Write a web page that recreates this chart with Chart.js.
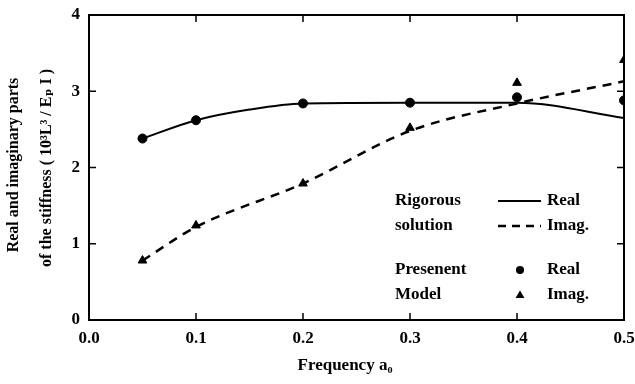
<!DOCTYPE html>
<html><head><meta charset="utf-8">
<script src="https://cdn.jsdelivr.net/npm/chart.js@4/dist/chart.umd.min.js"></script>
<style>html,body{margin:0;padding:0;background:#fff}#wrap{width:635px;height:384px}</style>
</head><body><div id="wrap"><canvas id="c" width="635" height="384"></canvas></div>
<script>
// Data
const rigX = [0.05, 0.1, 0.15, 0.2, 0.3, 0.4, 0.5];
const rigReal = [2.38, 2.62, 2.76, 2.84, 2.85, 2.85, 2.65];
const rigImagX = [0.05, 0.1, 0.2, 0.3, 0.4, 0.5];
const rigImag = [0.78, 1.22, 1.79, 2.48, 2.84, 3.13];
const modelX = [0.05, 0.1, 0.2, 0.3, 0.4, 0.5];
const modelReal = [2.38, 2.62, 2.84, 2.85, 2.92, 2.88];
const modelImag = [0.78, 1.24, 1.79, 2.52, 3.11, 3.41];
const xTicks = [0.0, 0.1, 0.2, 0.3, 0.4, 0.5];
const yTicks = [0, 1, 2, 3, 4];

const pts = (xs, ys) => xs.map((x, i) => ({x, y: ys[i]}));
const SERIF = '"Liberation Serif", "DejaVu Serif", serif';

const framePlugin = {
  id: 'frame',
  afterDraw(chart) {
    const ctx = chart.ctx, a = chart.chartArea;
    const xs = chart.scales.x, ys = chart.scales.y;
    ctx.save();
    ctx.strokeStyle = '#000';
    ctx.lineWidth = 2;
    ctx.strokeRect(a.left, a.top, a.right - a.left, a.bottom - a.top);
    ctx.lineWidth = 1.5;
    const tl = 7;
    xTicks.forEach(v => {
      const px = xs.getPixelForValue(v);
      ctx.beginPath();
      ctx.moveTo(px, a.bottom); ctx.lineTo(px, a.bottom - tl);
      ctx.moveTo(px, a.top); ctx.lineTo(px, a.top + tl);
      ctx.stroke();
    });
    yTicks.forEach(v => {
      const py = ys.getPixelForValue(v);
      ctx.beginPath();
      ctx.moveTo(a.left, py); ctx.lineTo(a.left + tl, py);
      ctx.moveTo(a.right, py); ctx.lineTo(a.right - tl, py);
      ctx.stroke();
    });
    // Legend
    ctx.fillStyle = '#000';
    ctx.font = 'bold 17px ' + SERIF;
    ctx.textBaseline = 'middle';
    ctx.textAlign = 'left';
    ctx.fillText('Rigorous', 395, 201);
    ctx.fillText('solution', 395, 226);
    ctx.fillText('Presenent', 395, 270);
    ctx.fillText('Model', 395, 295);
    ctx.fillText('Real', 547, 201);
    ctx.fillText('Imag.', 547, 226);
    ctx.fillText('Real', 547, 270);
    ctx.fillText('Imag.', 547, 295);
    ctx.lineWidth = 1.8;
    ctx.beginPath(); ctx.moveTo(498, 201); ctx.lineTo(541, 201); ctx.stroke();
    ctx.lineWidth = 2.5;
    ctx.setLineDash([8, 6]);
    ctx.beginPath(); ctx.moveTo(498, 226); ctx.lineTo(541, 226); ctx.stroke();
    ctx.setLineDash([]);
    ctx.beginPath(); ctx.arc(520, 270, 4, 0, Math.PI * 2); ctx.fill();
    ctx.beginPath(); ctx.moveTo(520, 290.5); ctx.lineTo(524.5, 298); ctx.lineTo(515.5, 298); ctx.closePath(); ctx.fill();
    // Axis titles
    ctx.font = 'bold 17px ' + SERIF;
    ctx.textAlign = 'center';
    ctx.fillText('Frequency a\u2080', 345, 366);
    ctx.font = 'bold 16px ' + SERIF;
    ctx.save();
    ctx.translate(14, 165);
    ctx.rotate(-Math.PI / 2);
    ctx.fillText('Real and imaginary parts', 0, 0);
    ctx.restore();
    ctx.save();
    ctx.translate(47, 168);
    ctx.rotate(-Math.PI / 2);
    ctx.fillText('of the stiffness ( 10\u00b3L\u00b3 / E\u209a I )', 0, 0);
    ctx.restore();
    ctx.restore();
  }
};

new Chart(document.getElementById('c'), {
  type: 'scatter',
  data: {
    datasets: [
      { label: 'Rigorous Real', data: pts(rigX, rigReal), showLine: true, borderColor: '#000', borderWidth: 2, pointRadius: 0, cubicInterpolationMode: 'monotone', fill: false },
      { label: 'Rigorous Imag.', data: pts(rigImagX, rigImag), showLine: true, borderColor: '#000', borderWidth: 2.5, borderDash: [9, 7], pointRadius: 0, cubicInterpolationMode: 'monotone', fill: false },
      { label: 'Model Real', data: pts(modelX, modelReal), showLine: false, pointStyle: 'circle', pointRadius: 4.5, backgroundColor: '#000', borderColor: '#000' },
      { label: 'Model Imag.', data: pts(modelX, modelImag), showLine: false, pointStyle: 'triangle', pointRadius: 5, backgroundColor: '#000', borderColor: '#000' }
    ]
  },
  options: {
    responsive: false,
    animation: false,
    layout: { padding: { left: 0, right: 11, top: 15, bottom: 0 } },
    plugins: { legend: { display: false }, tooltip: { enabled: false } },
    scales: {
      x: {
        type: 'linear', min: 0, max: 0.5,
        afterBuildTicks: s => { s.ticks = xTicks.map(v => ({value: v})); },
        afterFit: s => { s.height = 64; s.paddingLeft = 0; s.paddingRight = 0; },
        grid: { display: false, drawTicks: false }, border: { display: false },
        ticks: { padding: 8, color: '#000', font: { family: SERIF, size: 17, weight: 'bold' }, callback: v => Number(v).toFixed(1), maxRotation: 0 }
      },
      y: {
        type: 'linear', min: 0, max: 4,
        afterBuildTicks: s => { s.ticks = yTicks.map(v => ({value: v})); },
        afterFit: s => { s.width = 89; s.paddingTop = 0; s.paddingBottom = 0; },
        grid: { display: false, drawTicks: false }, border: { display: false },
        ticks: { padding: 9, color: '#000', font: { family: SERIF, size: 17, weight: 'bold' }, callback: v => String(v) }
      }
    }
  },
  plugins: [framePlugin]
});
</script>
</body></html>
